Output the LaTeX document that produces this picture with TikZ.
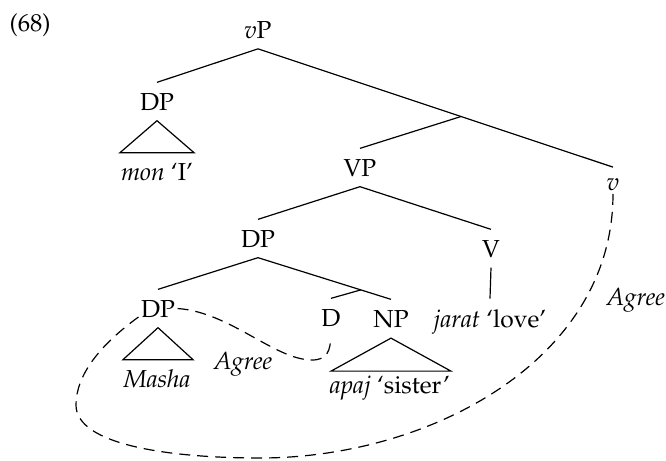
\documentclass[tikz,border=0pt]{standalone}
\usepackage[T1]{fontenc}
\usepackage{mathpazo}
\usetikzlibrary{calc}
\begin{document}
\begin{tikzpicture}[x=0.5pt, y=-0.5pt, line width=0.6pt,
    font=\fontsize{12.3}{15}\selectfont,
    every node/.style={inner xsep=1pt, inner ysep=5pt, anchor=base},
    agree/.style={dash pattern=on 5.5pt off 3.5pt}]
  \useasboundingbox (0,0) rectangle (666,461);
  \node[anchor=base west] (ex) at (7,31) {(68)};
  % the clause spine
  \node (vP) at (258,38) {\textit{v}P};
  \node (DPsubj) at (157,110) {DP};
  \node (mon) at (157,180) {\textit{mon} `I'};
  \node (v) at (613,190) {\textit{v}};
  \node (VP) at (360,176) {VP};
  \node (V) at (491,257) {V};
  \node (jarat) at (490,327) {\textit{jarat} `love'};
  % the object DP
  \node (DPobj) at (258,247) {DP};
  \node (DPposs) at (158,317) {DP};
  \node (masha) at (157,387) {\textit{Masha}};
  \node (D) at (331,326) {D};
  \node (NP) at (391,327) {NP};
  \node (apaj) at (390,393) {\textit{apaj} `sister'};
  \node (agreeD) at (243,369) {\textit{Agree}};
  \node[anchor=base west] (agreev) at (604,305) {\textit{Agree}};

  \draw (vP.south) -- (DPsubj.north);
  \draw (vP.south) -- coordinate[pos=0.572] (vbar) (v.north);
  \draw (vbar) -- (VP.north);
  \draw (VP.south) -- (DPobj.north);
  \draw (VP.south) -- (V.north);
  \draw (V.south) -- (jarat.north);
  \draw (DPobj.south) -- (DPposs.north);
  \draw (DPobj.south) -- coordinate[pos=0.773] (dbar) (NP.north);
  \draw (dbar) -- (D.north);
  % triangles
  \draw (DPsubj.south) -- ++(-37,32) -- ++(74,0) -- cycle;
  \draw (DPposs.south) -- ++(-35,32) -- ++(70,0) -- cycle;
  \draw (NP.south) -- ++(-60,33) -- ++(120,0) -- cycle;
  % agreement paths
  \draw[agree] (DPposs.east) .. controls (230,312) and (275,360) .. (312,360)
    .. controls (328,360) and (330,350) .. (D.south);
  \draw[agree] (DPposs.base west) .. controls (100,345) and (76,375) .. (76,405)
    .. controls (76,445) and (170,458) .. (260,458)
    .. controls (430,458) and (613,360) .. ([yshift=-2pt]v.base);
\end{tikzpicture}
\end{document}
